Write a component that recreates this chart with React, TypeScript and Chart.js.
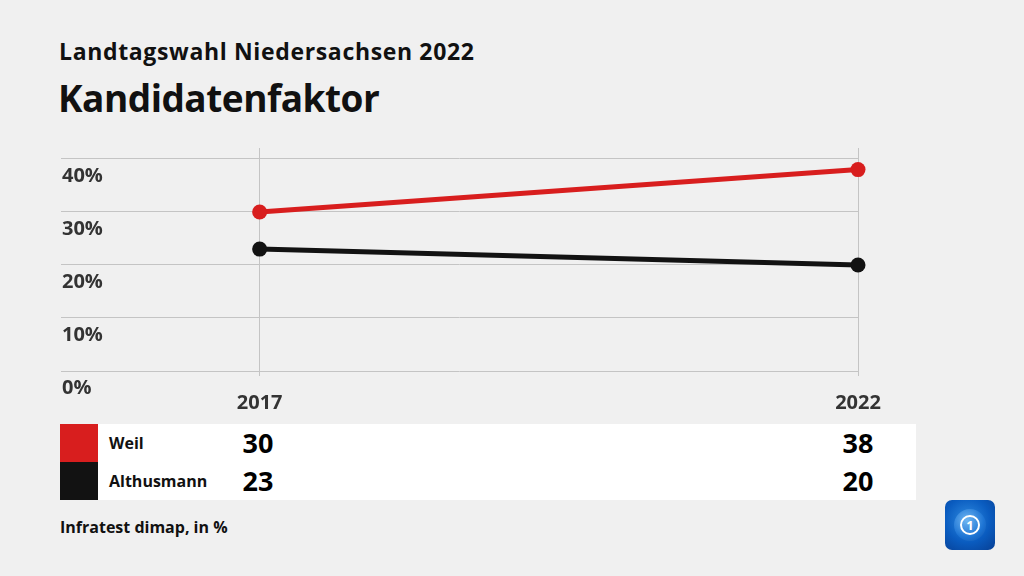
import React, { useEffect, useRef } from "react";
import { Chart, registerables } from "chart.js";

Chart.register(...registerables);

const years = [2017, 2022];
const candidates = ["Weil", "Althusmann"];
const weilValues = [30, 38];
const althusmannValues = [23, 20];
const colors = ["#d81e1e", "#121212"];
const yTickValues = [0, 10, 20, 30, 40];

const FONT = "'Open Sans', 'Noto Sans', sans-serif";

export default function App() {
  const ref = useRef<HTMLCanvasElement | null>(null);

  useEffect(() => {
    document.body.style.margin = "0";
    const ctx = ref.current!;
    const chart = new Chart(ctx, {
      type: "line",
      data: {
        datasets: [
          {
            label: candidates[0],
            data: years.map((y, i) => ({ x: y, y: weilValues[i] })),
            borderColor: colors[0],
            backgroundColor: colors[0],
            borderWidth: 5,
            pointRadius: 7.5,
            pointHoverRadius: 7.5,
            pointBorderWidth: 0,
            clip: false as any,
          },
          {
            label: candidates[1],
            data: years.map((y, i) => ({ x: y, y: althusmannValues[i] })),
            borderColor: colors[1],
            backgroundColor: colors[1],
            borderWidth: 5,
            pointRadius: 7.5,
            pointHoverRadius: 7.5,
            pointBorderWidth: 0,
            clip: false as any,
          },
        ],
      },
      options: {
        responsive: false,
        animation: false,
        layout: { padding: { left: 59, right: 166, top: 18, bottom: 0 } },
        plugins: { legend: { display: false }, tooltip: { enabled: false } },
        scales: {
          x: {
            type: "linear",
            min: 2015.34,
            max: 2022,
            afterBuildTicks: (scale: any) => {
              scale.ticks = years.map((v) => ({ value: v }));
            },
            grid: { color: "#c4c4c4", lineWidth: 1, drawTicks: true, tickLength: 5 },
            border: { display: false },
            ticks: {
              padding: 15,
              maxRotation: 0,
              autoSkip: false,
              color: "#333",
              font: { family: FONT, size: 20, weight: "bold" },
              callback: (v: any) => String(v),
            },
          },
          y: {
            min: 0,
            max: 42.07,
            afterBuildTicks: (scale: any) => {
              scale.ticks = yTickValues.map((v) => ({ value: v }));
            },
            grid: { color: "#c4c4c4", lineWidth: 1, drawTicks: false },
            border: { display: false },
            ticks: {
              mirror: true,
              padding: 1,
              labelOffset: 17,
              color: "#333",
              font: { family: FONT, size: 20, weight: "bold" },
              callback: (v: any) => v + "%",
            },
          },
        },
      },
    } as any);
    return () => chart.destroy();
  }, []);

  const rowValues = [weilValues, althusmannValues];
  const valueX = [258, 858];

  return (
    <div
      style={{
        position: "fixed",
        left: 0,
        top: 0,
        width: 1024,
        height: 576,
        background: "#f0f0f0",
        fontFamily: FONT,
        overflow: "hidden",
      }}
    >
      <div
        style={{
          position: "absolute",
          left: 59,
          top: 35,
          fontSize: 23,
          fontWeight: 700,
          color: "#111",
          whiteSpace: "nowrap",
          letterSpacing: 0.65,
        }}
      >
        Landtagswahl Niedersachsen 2022
      </div>
      <div
        style={{
          position: "absolute",
          left: 58,
          top: 72,
          fontSize: 37,
          fontWeight: 700,
          color: "#111",
          whiteSpace: "nowrap",
          letterSpacing: -0.5,
        }}
      >
        Kandidatenfaktor
      </div>
      <canvas
        ref={ref}
        width={1024}
        height={300}
        style={{ position: "absolute", left: 0, top: 130, width: 1024, height: 300 }}
      />
      {candidates.map((name, r) => (
        <React.Fragment key={name}>
          <div
            style={{
              position: "absolute",
              left: 60,
              top: 424 + r * 38,
              width: 38,
              height: 38,
              background: colors[r],
            }}
          />
          <div
            style={{
              position: "absolute",
              left: 98,
              top: 424 + r * 38,
              width: 818,
              height: 38,
              background: "#fff",
            }}
          />
          <div
            style={{
              position: "absolute",
              left: 109,
              top: 424 + r * 38,
              height: 38,
              lineHeight: "38px",
              fontSize: 16,
              fontWeight: 700,
              color: "#111",
              whiteSpace: "nowrap",
            }}
          >
            {name}
          </div>
          {rowValues[r].map((v, c) => (
            <div
              key={c}
              style={{
                position: "absolute",
                left: valueX[c] - 40,
                width: 80,
                textAlign: "center",
                top: 424 + r * 38,
                height: 38,
                lineHeight: "38px",
                fontSize: 27,
                fontWeight: 700,
                color: "#000",
              }}
            >
              {v}
            </div>
          ))}
        </React.Fragment>
      ))}
      <div
        style={{
          position: "absolute",
          left: 60,
          top: 516,
          fontSize: 16,
          fontWeight: 700,
          color: "#111",
          whiteSpace: "nowrap",
        }}
      >
        Infratest dimap, in %
      </div>
      <div
        style={{
          position: "absolute",
          left: 945,
          top: 500,
          width: 50,
          height: 50,
          borderRadius: 7,
          background: "radial-gradient(circle at 45% 40%, #2f8be0 0%, #0a5cc0 55%, #073f94 100%)",
          overflow: "hidden",
        }}
      >
        <div
          style={{
            position: "absolute",
            left: 9,
            top: 9,
            width: 32,
            height: 32,
            borderRadius: "50%",
            background: "radial-gradient(circle at 40% 35%, #6fb6f2 0%, #1d74d4 60%, #0d4fa8 100%)",
          }}
        />
        <div
          style={{
            position: "absolute",
            left: 15,
            top: 15,
            width: 16,
            height: 16,
            borderRadius: "50%",
            border: "2px solid #ffffff",
            color: "#fff",
            fontSize: 13,
            fontWeight: 700,
            lineHeight: "16px",
            textAlign: "center",
            fontFamily: FONT,
          }}
        >
          1
        </div>
      </div>
    </div>
  );
}
